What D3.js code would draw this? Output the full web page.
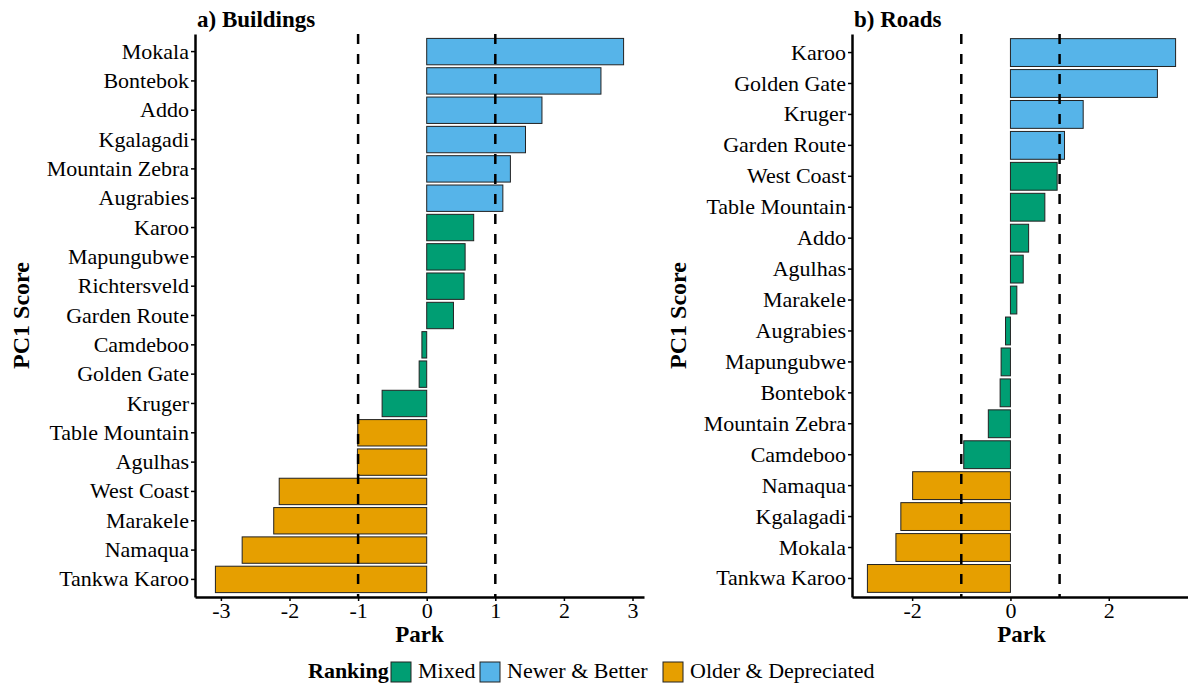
<!DOCTYPE html>
<html lang="en">

<head>
    <meta charset="UTF-8">
    <title>PC1 Score by Park</title>
    <script src="https://d3js.org/d3.v7.min.js"></script>
    <style type="text/css">
        body {
            margin: 0;
            background: #fff;
        }

        svg text {
            font-family: "Liberation Serif", "Times New Roman", serif;
            fill: #000;
        }
    </style>
</head>

<body>
    <svg width="1188" height="686"></svg>

    <script type="text/javascript">
        // a) buildings, top to bottom
        var buildParks = ["Mokala", "Bontebok", "Addo", "Kgalagadi", "Mountain Zebra", "Augrabies",
            "Karoo", "Mapungubwe", "Richtersveld", "Garden Route", "Camdeboo", "Golden Gate", "Kruger",
            "Table Mountain", "Agulhas", "West Coast", "Marakele", "Namaqua", "Tankwa Karoo"];
        var buildScores = [2.87, 2.54, 1.68, 1.44, 1.22, 1.11,
            0.685, 0.56, 0.545, 0.39, -0.07, -0.11, -0.65,
            -1.005, -1.01, -2.15, -2.23, -2.69, -3.08];
        var buildRank = ["N", "N", "N", "N", "N", "N",
            "M", "M", "M", "M", "M", "M", "M",
            "O", "O", "O", "O", "O", "O"];

        // b) roads, top to bottom
        var roadParks = ["Karoo", "Golden Gate", "Kruger", "Garden Route", "West Coast", "Table Mountain",
            "Addo", "Agulhas", "Marakele", "Augrabies", "Mapungubwe", "Bontebok", "Mountain Zebra",
            "Camdeboo", "Namaqua", "Kgalagadi", "Mokala", "Tankwa Karoo"];
        var roadScores = [3.36, 2.99, 1.48, 1.10, 0.95, 0.70,
            0.37, 0.26, 0.13, -0.10, -0.19, -0.21, -0.45,
            -0.95, -1.99, -2.23, -2.33, -2.91];
        var roadRank = ["N", "N", "N", "N", "M", "M",
            "M", "M", "M", "M", "M", "M", "M",
            "M", "O", "O", "O", "O"];

        var rankKeys = ["M", "N", "O"];
        var rankLabels = ["Mixed", "Newer & Better", "Older & Depreciated"];
        var rankColours = ["#009E73", "#56B4E9", "#E69F00"];
        var cutoffs = [-1, 1];

        var svg = d3.select("svg");
        var colour = d3.scaleOrdinal().domain(rankKeys).range(rankColours);
        var panelTop = 34, panelBottom = 597;

        function panel(parks, scores, ranks, left, right, title, xTicks, yTitleX) {
            var lo = d3.min(scores), hi = d3.max(scores), pad = (hi - lo) * 0.05;
            var x = d3.scaleLinear().domain([lo - pad, hi + pad]).range([left, right]);
            var y = d3.scaleBand().domain(parks).range([panelTop, panelBottom])
                .paddingInner(0.1).paddingOuter(0.15);

            var g = svg.append("g");
            var rows = parks.map(function(p, i) { return { park: p, v: scores[i], r: ranks[i] }; });

            g.selectAll("rect.bar")
                .data(rows)
                .enter().append("rect")
                .attr("class", "bar")
                .attr("x", function(d) { return x(Math.min(0, d.v)); })
                .attr("y", function(d) { return y(d.park); })
                .attr("width", function(d) { return Math.abs(x(d.v) - x(0)); })
                .attr("height", y.bandwidth())
                .attr("fill", function(d) { return colour(d.r); })
                .attr("stroke", "#222")
                .attr("stroke-width", 1);

            g.selectAll("line.cut")
                .data(cutoffs)
                .enter().append("line")
                .attr("class", "cut")
                .attr("x1", function(d) { return x(d); })
                .attr("x2", function(d) { return x(d); })
                .attr("y1", panelTop)
                .attr("y2", panelBottom)
                .attr("stroke", "#000")
                .attr("stroke-width", 2.5)
                .attr("stroke-dasharray", "10,10");

            var ya = g.append("g")
                .attr("transform", "translate(" + left + ",0)")
                .call(d3.axisLeft(y).tickSize(4).tickSizeOuter(0).tickPadding(2));
            var xa = g.append("g")
                .attr("transform", "translate(0," + panelBottom + ")")
                .call(d3.axisBottom(x).ticks(xTicks).tickSize(4).tickSizeOuter(0).tickPadding(1)
                    .tickFormat(function(d) { return String(d); }));

            [ya, xa].forEach(function(a) {
                a.select(".domain").attr("stroke", "#000").attr("stroke-width", 2.5);
                a.selectAll(".tick line").attr("stroke", "#000").attr("stroke-width", 1.5);
                a.selectAll(".tick text").attr("font-size", 22).attr("fill", "#000")
                    .style("font-family", "'Liberation Serif', serif");
            });

            g.append("text")
                .attr("x", left + 2)
                .attr("y", 27)
                .attr("font-size", 23)
                .attr("font-weight", "bold")
                .text(title);

            g.append("text")
                .attr("x", (left + right) / 2)
                .attr("y", 642)
                .attr("text-anchor", "middle")
                .attr("font-size", 23)
                .attr("font-weight", "bold")
                .text("Park");

            g.append("text")
                .attr("transform", "translate(" + yTitleX + "," + (panelTop + panelBottom) / 2 + ") rotate(-90)")
                .attr("text-anchor", "middle")
                .attr("font-size", 24)
                .attr("font-weight", "bold")
                .text("PC1 Score");
        }

        panel(buildParks, buildScores, buildRank, 195, 644, "a) Buildings", 6, 29);
        panel(roadParks, roadScores, roadRank, 852, 1191, "b) Roads", 4, 686);

        // legend
        var legend = svg.append("g");
        legend.append("text")
            .attr("x", 308)
            .attr("y", 678)
            .attr("font-size", 22)
            .attr("font-weight", "bold")
            .text("Ranking");

        var keyX = [391, 480, 663];
        rankKeys.forEach(function(k, i) {
            legend.append("rect")
                .attr("x", keyX[i])
                .attr("y", 662)
                .attr("width", 20)
                .attr("height", 20)
                .attr("fill", rankColours[i])
                .attr("stroke", "#222")
                .attr("stroke-width", 1);
            legend.append("text")
                .attr("x", keyX[i] + 27)
                .attr("y", 678)
                .attr("font-size", 22)
                .text(rankLabels[i]);
        });
    </script>
</body>

</html>
